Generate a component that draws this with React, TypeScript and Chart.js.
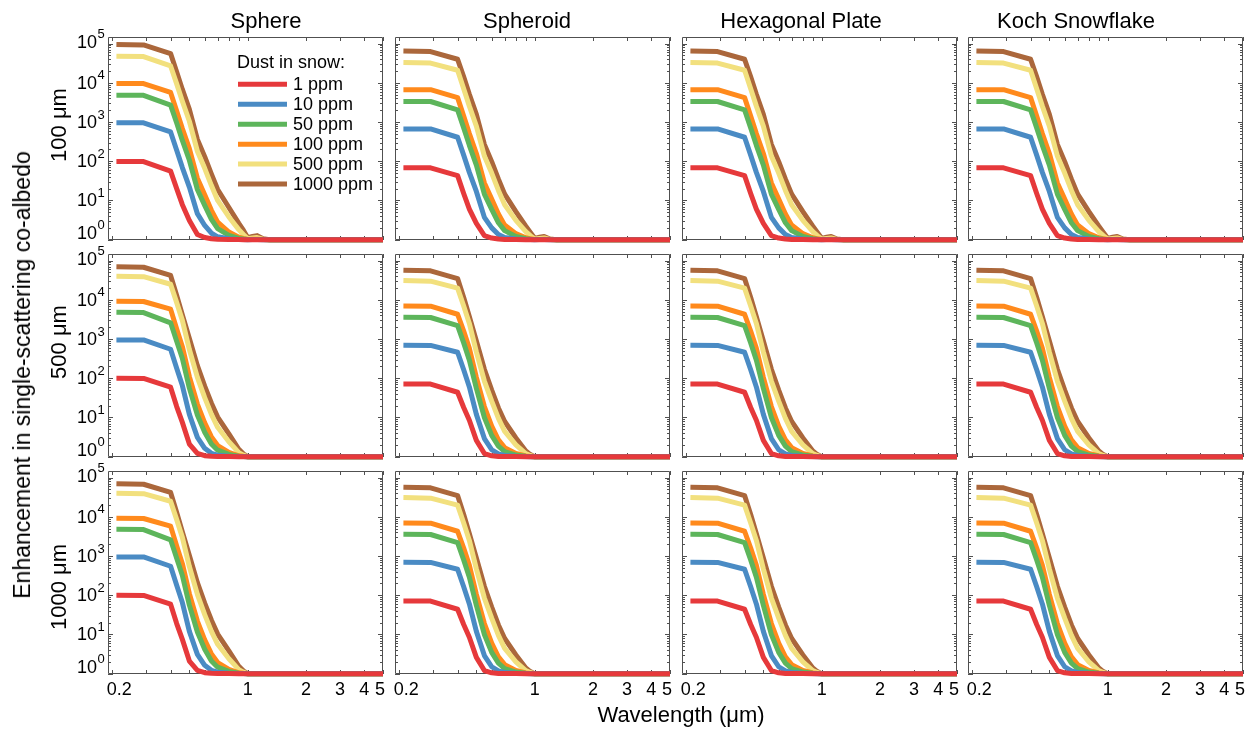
import React, { useEffect, useRef } from 'react';
import { Chart, registerables } from 'chart.js';

Chart.register(...registerables);

// ---------------- data ----------------
const WAVELENGTHS = [0.21, 0.29, 0.4, 0.43, 0.46, 0.5, 0.55, 0.6, 0.65, 0.7, 0.8, 0.9, 0.95, 1.0, 1.06, 1.12, 1.2, 1.3, 5.0];
const DUST_LABELS = ['1 ppm', '10 ppm', '50 ppm', '100 ppm', '500 ppm', '1000 ppm'];
const LINE_COLORS = ['#e6393b', '#4a8bc4', '#5db55b', '#ff8a1c', '#f2e07e', '#ab673b'];
const SHAPES = ['Sphere', 'Spheroid', 'Hexagonal Plate', 'Koch Snowflake'];
const GRAIN_SIZES = ['100 μm', '500 μm', '1000 μm'];
const X_TICK_VALUES = [0.2, 0.3, 0.4, 0.5, 0.6, 0.7, 0.8, 0.9, 1, 2, 3, 4, 5];
const X_LABEL_VALUES = [0.2, 1, 2, 3, 4, 5];
const X_LABELS = ['0.2', '1', '2', '3', '4', '5'];
const Y_DECADES = [0, 1, 2, 3, 4, 5];

// Sphere, 100 μm
const S100_1PPM = [98, 98, 56, 20, 7.8, 3.1, 1.36, 1.13, 1.05, 1.02, 1.006, 1.002, 1.001, 1, 1, 1, 1, 1, 1];
const S100_10PPM = [960, 960, 560, 190, 69, 22, 4.6, 2.3, 1.46, 1.18, 1.056, 1.016, 1.007, 1.001, 1.002, 1.003, 1.001, 1, 1];
const S100_50PPM = [4800, 4800, 2700, 950, 340, 106, 19, 7.5, 3.3, 1.9, 1.28, 1.08, 1.035, 1.006, 1.01, 1.014, 1.003, 1, 1];
const S100_100PPM = [9600, 9600, 5700, 1900, 680, 210, 37, 14, 5.6, 2.8, 1.56, 1.16, 1.07, 1.012, 1.02, 1.027, 1.006, 1, 1];
const S100_500PPM = [48000, 47000, 27000, 9400, 3400, 1050, 180, 66, 24, 10, 3.8, 1.8, 1.35, 1.06, 1.1, 1.13, 1.03, 1, 1];
const S100_1000PPM = [95000, 93000, 56000, 19000, 6800, 2100, 360, 131, 47, 19, 6.6, 2.6, 1.75, 1.12, 1.2, 1.27, 1.06, 1, 1];

// Non-spherical shapes, 100 μm
const N100_1PPM = [68, 68, 43, 15, 6.0, 2.6, 1.27, 1.1, 1.035, 1.014, 1.004, 1.001, 1.001, 1, 1, 1, 1, 1, 1];
const N100_10PPM = [670, 670, 410, 143, 52, 17, 3.7, 2.0, 1.35, 1.14, 1.042, 1.012, 1.005, 1.001, 1.002, 1.002, 1.001, 1, 1];
const N100_50PPM = [3350, 3350, 2050, 710, 255, 80, 14.5, 5.9, 2.7, 1.7, 1.21, 1.06, 1.026, 1.004, 1.008, 1.01, 1.002, 1, 1];
const N100_100PPM = [6700, 6700, 4200, 1420, 510, 158, 28, 10.8, 4.5, 2.35, 1.42, 1.12, 1.05, 1.008, 1.015, 1.02, 1.004, 1, 1];
const N100_500PPM = [33000, 32000, 21000, 7100, 2550, 790, 136, 50, 18, 7.8, 3.1, 1.6, 1.26, 1.04, 1.07, 1.1, 1.02, 1, 1];
const N100_1000PPM = [65000, 63000, 40000, 14200, 5100, 1580, 270, 98, 35, 14.5, 5.2, 2.2, 1.52, 1.08, 1.15, 1.2, 1.04, 1, 1];

// Sphere, 500 and 1000 μm
const SL_1PPM = [100, 99, 59, 19, 7.5, 2.1, 1.21, 1.06, 1.02, 1.009, 1.003, 1.001, 1, 1, 1, 1, 1, 1, 1];
const SL_10PPM = [950, 950, 550, 180, 65, 12, 3.1, 1.63, 1.22, 1.09, 1.028, 1.005, 1.002, 1, 1, 1, 1, 1, 1];
const SL_50PPM = [4800, 4750, 2600, 880, 320, 56, 11.5, 4.2, 2.1, 1.46, 1.14, 1.027, 1.009, 1, 1, 1, 1, 1, 1];
const SL_100PPM = [9200, 9100, 5800, 1800, 640, 110, 22, 7.3, 3.2, 1.92, 1.28, 1.054, 1.018, 1, 1, 1, 1, 1, 1];
const SL_500PPM = [40000, 39000, 25000, 8500, 3000, 540, 105, 32, 12, 5.6, 2.4, 1.27, 1.09, 1, 1, 1, 1, 1, 1];
const SL_1000PPM = [70000, 68000, 42000, 13000, 4100, 1035, 210, 63, 23, 10.2, 3.8, 1.54, 1.18, 1, 1, 1, 1, 1, 1];

// Non-spherical shapes, 500 and 1000 μm
const NL_1PPM = [71, 71, 44, 18, 8.5, 2.6, 1.2, 1.05, 1.016, 1.007, 1.002, 1.0004, 1, 1, 1, 1, 1, 1, 1];
const NL_10PPM = [700, 690, 460, 165, 60, 12, 2.9, 1.5, 1.17, 1.07, 1.021, 1.004, 1.001, 1, 1, 1, 1, 1, 1];
const NL_50PPM = [3600, 3550, 2200, 800, 290, 55, 10, 3.5, 1.85, 1.35, 1.1, 1.02, 1.007, 1, 1, 1, 1, 1, 1];
const NL_100PPM = [7000, 6900, 4300, 1600, 580, 105, 19, 6, 2.7, 1.7, 1.21, 1.04, 1.013, 1, 1, 1, 1, 1, 1];
const NL_500PPM = [31000, 30000, 20000, 7000, 2500, 470, 85, 26, 9.5, 4.4, 2.0, 1.2, 1.07, 1, 1, 1, 1, 1, 1];
const NL_1000PPM = [57000, 55000, 35000, 11500, 3700, 900, 170, 50, 17.5, 7.9, 3.0, 1.4, 1.13, 1, 1, 1, 1, 1, 1];

const S100 = [S100_1PPM, S100_10PPM, S100_50PPM, S100_100PPM, S100_500PPM, S100_1000PPM];
const N100 = [N100_1PPM, N100_10PPM, N100_50PPM, N100_100PPM, N100_500PPM, N100_1000PPM];
const SL = [SL_1PPM, SL_10PPM, SL_50PPM, SL_100PPM, SL_500PPM, SL_1000PPM];
const NL = [NL_1PPM, NL_10PPM, NL_50PPM, NL_100PPM, NL_500PPM, NL_1000PPM];

const PANEL_SERIES = [
  [S100, N100, N100, N100],
  [SL, NL, NL, NL],
  [SL, NL, NL, NL],
];

// ---------------- layout ----------------
const X_MIN = 0.19;
const X_MAX = 5.0;
const Y_MIN = 0.98;
const Y_MAX = 1.48e5;
const PLOT_LEFT = [108, 395, 682, 968];
const PLOT_TOP = [37, 254, 471];
const PLOT_W = 275;
const PLOT_H = 203;
const PAD_L = 100;
const PAD_R = 12;
const PAD_T = 40;
const PAD_B = 40;
const TITLE_CENTER = [266, 527, 801, 1076];
const ROW_LABEL_CENTER = [125, 342, 587];
const FONT = 'Arial, "Liberation Sans", Helvetica, sans-serif';
const FRAME_COLOR = '#505050';

function makeDecor(row: number, col: number) {
  return {
    id: 'decor',
    beforeDatasetsDraw(chart: any) {
      const { ctx, chartArea: a } = chart;
      const xs = chart.scales.x;
      const ys = chart.scales.y;
      ctx.save();
      ctx.strokeStyle = FRAME_COLOR;
      ctx.lineWidth = 1;
      ctx.beginPath();
      ctx.rect(a.left + 0.5, a.top + 0.5, a.right - a.left - 1, a.bottom - a.top - 1);
      for (const v of X_TICK_VALUES) {
        const px = Math.round(xs.getPixelForValue(v)) + 0.5;
        ctx.moveTo(px, a.bottom);
        ctx.lineTo(px, a.bottom - 4);
        ctx.moveTo(px, a.top);
        ctx.lineTo(px, a.top + 4);
      }
      for (const e of Y_DECADES) {
        for (let m = 1; m <= 9; m++) {
          const v = m * Math.pow(10, e);
          if (v < Y_MIN || v > Y_MAX) continue;
          const py = Math.round(ys.getPixelForValue(v)) + 0.5;
          const len = m === 1 ? 5 : 3;
          ctx.moveTo(a.left, py);
          ctx.lineTo(a.left + len, py);
          ctx.moveTo(a.right, py);
          ctx.lineTo(a.right - len, py);
        }
      }
      ctx.stroke();
      ctx.restore();
    },
    afterDraw(chart: any) {
      const { ctx, chartArea: a } = chart;
      const xs = chart.scales.x;
      const ys = chart.scales.y;
      const pageLeft = PLOT_LEFT[col] - PAD_L;
      const pageTop = PLOT_TOP[row] - PAD_T;
      ctx.save();
      ctx.fillStyle = '#000';
      if (col === 0) {
        for (const e of Y_DECADES) {
          let py = ys.getPixelForValue(Math.pow(10, e));
          if (e === 0) py -= 7;
          if (e === 5) py -= 2;
          ctx.font = `18px ${FONT}`;
          ctx.textAlign = 'right';
          ctx.textBaseline = 'middle';
          ctx.fillText('10', a.left - 11, py + 1);
          ctx.font = `13px ${FONT}`;
          ctx.textAlign = 'left';
          ctx.fillText(String(e), a.left - 10.5, py - 7);
        }
        // row label
        ctx.save();
        ctx.translate(66 - pageLeft, ROW_LABEL_CENTER[row] - pageTop);
        ctx.rotate(-Math.PI / 2);
        ctx.font = `22px ${FONT}`;
        ctx.textAlign = 'center';
        ctx.textBaseline = 'alphabetic';
        ctx.fillText(GRAIN_SIZES[row], 0, 0);
        ctx.restore();
      }
      if (row === 2) {
        ctx.font = `18px ${FONT}`;
        ctx.textAlign = 'center';
        ctx.textBaseline = 'middle';
        X_LABEL_VALUES.forEach((v, i) => {
          let px = xs.getPixelForValue(v);
          if (i === 0) px += 7;
          if (i === X_LABEL_VALUES.length - 1) px -= 3;
          ctx.fillText(X_LABELS[i], px, a.bottom + 16);
        });
      }
      if (row === 0) {
        ctx.font = `22px ${FONT}`;
        ctx.textAlign = 'center';
        ctx.textBaseline = 'alphabetic';
        ctx.fillText(SHAPES[col], TITLE_CENTER[col] - pageLeft, 28 - pageTop);
      }
      if (row === 0 && col === 0) {
        ctx.font = `18px ${FONT}`;
        ctx.textAlign = 'left';
        ctx.textBaseline = 'middle';
        ctx.fillText('Dust in snow:', a.left + 129, a.top + 26);
        DUST_LABELS.forEach((lab, i) => {
          const y = a.top + 47.3 + i * 19.95;
          ctx.strokeStyle = LINE_COLORS[i];
          ctx.lineWidth = 5;
          ctx.lineCap = 'butt';
          ctx.beginPath();
          ctx.moveTo(a.left + 130, y);
          ctx.lineTo(a.left + 179, y);
          ctx.stroke();
          ctx.fillText(lab, a.left + 185, y + 0.5);
        });
      }
      ctx.restore();
    },
  };
}

function Panel({ row, col }: { row: number; col: number }) {
  const ref = useRef<HTMLCanvasElement>(null);
  const width = PLOT_W + PAD_L + PAD_R;
  const height = PLOT_H + PAD_T + PAD_B;

  useEffect(() => {
    const canvas = ref.current;
    if (!canvas) return;
    const series = PANEL_SERIES[row][col];
    const chart = new Chart(canvas, {
      type: 'line',
      data: {
        datasets: series.map((vals: number[], i: number) => ({
          label: DUST_LABELS[i],
          data: WAVELENGTHS.map((w, j) => ({ x: w, y: vals[j] })),
          borderColor: LINE_COLORS[i],
          backgroundColor: LINE_COLORS[i],
          borderWidth: 5,
          pointRadius: 0,
          tension: 0,
          fill: false,
          clip: false,
          borderJoinStyle: 'round',
          borderCapStyle: 'butt',
        })),
      } as any,
      options: {
        responsive: false,
        animation: false,
        events: [],
        layout: { padding: { left: PAD_L, right: PAD_R, top: PAD_T, bottom: PAD_B } },
        plugins: { legend: { display: false }, tooltip: { enabled: false } },
        scales: {
          x: { type: 'logarithmic', min: X_MIN, max: X_MAX, display: false },
          y: { type: 'logarithmic', min: Y_MIN, max: Y_MAX, display: false },
        },
      } as any,
      plugins: [makeDecor(row, col)],
    });
    return () => chart.destroy();
  }, [row, col]);

  return (
    <canvas
      ref={ref}
      width={width}
      height={height}
      style={{
        position: 'absolute',
        left: PLOT_LEFT[col] - PAD_L,
        top: PLOT_TOP[row] - PAD_T,
        width,
        height,
      }}
    />
  );
}

export default function App() {
  const panels = [];
  for (let r = 0; r < 3; r++) {
    for (let c = 0; c < 4; c++) {
      panels.push(<Panel key={`${r}-${c}`} row={r} col={c} />);
    }
  }
  return (
    <div
      style={{
        position: 'absolute',
        left: 0,
        top: 0,
        width: 1258,
        height: 734,
        background: '#fff',
        overflow: 'hidden',
        fontFamily: FONT,
        color: '#000',
      }}
    >
      {panels}
      <div
        style={{
          position: 'absolute',
          left: 32,
          top: 375,
          transform: 'translate(-100%, -50%) rotate(-90deg)',
          transformOrigin: '100% 50%',
          whiteSpace: 'nowrap',
          fontSize: 23,
          lineHeight: '23px',
        }}
      >
        <span style={{ position: 'absolute', left: 0, top: 0 }} />
      </div>
      <div
        style={{
          position: 'absolute',
          left: 22,
          top: 375,
          width: 0,
          height: 0,
        }}
      >
        <div
          style={{
            position: 'absolute',
            left: 0,
            top: 0,
            transform: 'translate(-50%, -50%) rotate(-90deg)',
            whiteSpace: 'nowrap',
            fontSize: 23,
            lineHeight: '26px',
          }}
        >
          Enhancement in single-scattering co-albedo
        </div>
      </div>
      <div
        style={{
          position: 'absolute',
          left: 681,
          top: 715,
          width: 0,
          height: 0,
        }}
      >
        <div
          style={{
            position: 'absolute',
            left: 0,
            top: 0,
            transform: 'translate(-50%, -50%)',
            whiteSpace: 'nowrap',
            fontSize: 22,
            lineHeight: '26px',
          }}
        >
          Wavelength (μm)
        </div>
      </div>
    </div>
  );
}
